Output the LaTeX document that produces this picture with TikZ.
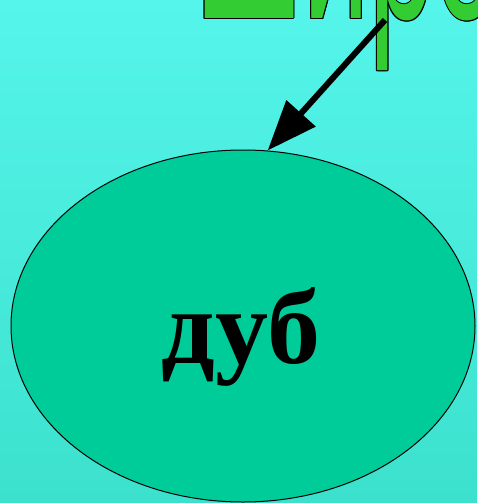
\documentclass[tikz,border=0pt]{standalone}
\usepackage{fontspec}
\setmainfont{Liberation Serif}
\newfontfamily\wordart{Liberation Sans}
\usetikzlibrary{shapes.geometric,arrows.meta}
\definecolor{bgtop}{RGB}{85,245,235}
\definecolor{bgbot}{RGB}{60,225,205}
\definecolor{oakfill}{RGB}{0,204,153}
\definecolor{artgreen}{RGB}{51,204,51}
\tikzset{
  arttext/.style={inner sep=0pt, anchor=base west, yscale=2.13, transform shape,
    font=\wordart\fontsize{118}{120}\selectfont},
  oakshape/.style={ellipse, draw=black, line width=1pt, fill=oakfill,
    minimum width=464pt, minimum height=352pt, inner sep=0pt},
  oaklabel/.style={inner sep=0pt, anchor=base, font=\bfseries\fontsize{106}{108}\selectfont},
  pointer/.style={line width=6pt, -{Triangle[length=50pt,width=38pt]}}
}
\begin{document}
\begin{tikzpicture}[x=1pt,y=-1pt]
\useasboundingbox (0,0) rectangle (477,503);
\clip (0,0) rectangle (477,503);
\shade[top color=bgtop, bottom color=bgbot] (0,0) rectangle (477,503);
\node[oakshape] (oak) at (243,326) {};
\node[oaklabel] (oakname) at (241,363) {дуб};
\foreach \dx/\dy in {-1/0,1/0,0/-1,0/1,-0.7/-0.7,0.7/-0.7,-0.7/0.7,0.7/0.7}
  \node[arttext, text=black] at (195+\dx,19+\dy) {Широколиственные};
\node[arttext, text=artgreen] (title) at (195,19) {Широколиственные};
\coordinate (start) at (385,20);
\draw[pointer] (start) -- (oak.82);
\end{tikzpicture}
\end{document}
